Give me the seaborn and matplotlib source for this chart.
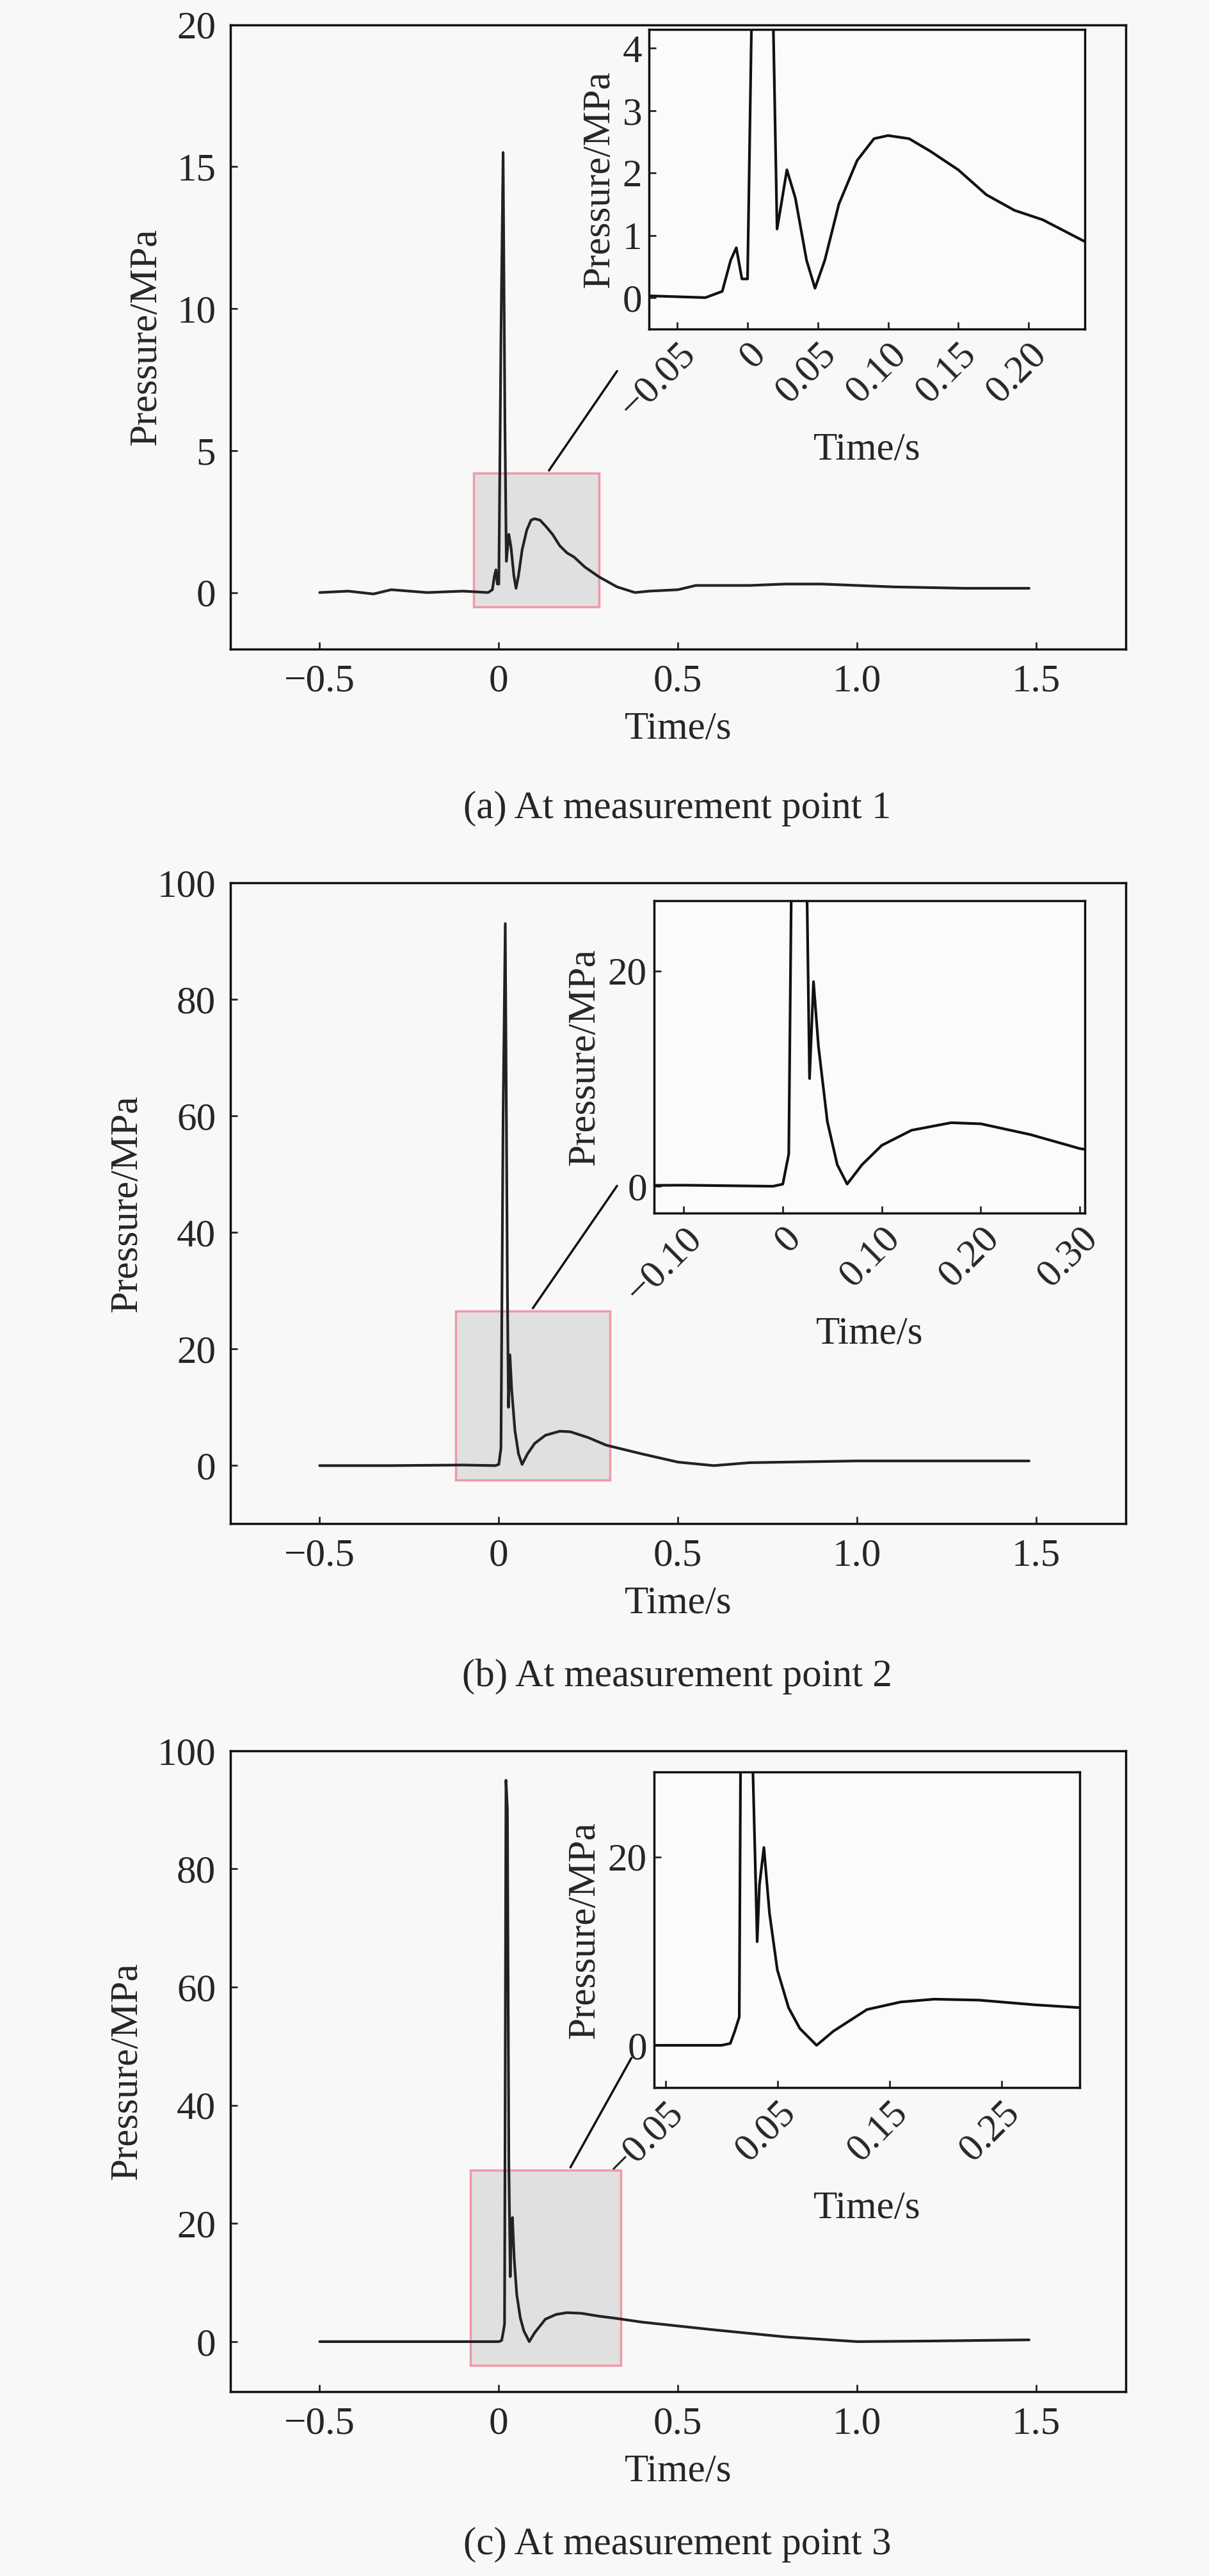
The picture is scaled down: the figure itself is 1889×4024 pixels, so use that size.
import numpy as np
import pandas as pd
import matplotlib.pyplot as plt
import seaborn as sns

sns.set_theme(style="white")
plt.rcParams['font.family'] = ['Liberation Serif', 'DejaVu Serif']
plt.rcParams['axes.unicode_minus'] = True

# ---- data ----
t_a = [-0.5, -0.42, -0.35, -0.3, -0.2, -0.1, -0.03, -0.018, -0.012, -0.008, -0.004, 0.0, 0.006, 0.012,
       0.017, 0.021, 0.024, 0.028, 0.034, 0.042, 0.048, 0.055, 0.065, 0.078, 0.09, 0.1, 0.115, 0.13, 0.15,
       0.17, 0.19, 0.21, 0.24, 0.28, 0.33, 0.38, 0.42, 0.5, 0.55, 0.7, 0.8, 0.9, 1.0, 1.1, 1.3, 1.48]
p_a = [0.0, 0.05, -0.05, 0.1, 0.0, 0.05, 0.0, 0.1, 0.6, 0.8, 0.3, 0.3, 9.0, 15.5,
       6.0, 1.1, 1.5, 2.05, 1.6, 0.6, 0.15, 0.6, 1.5, 2.2, 2.55, 2.6, 2.55, 2.35, 2.05,
       1.65, 1.4, 1.25, 0.9, 0.55, 0.2, 0.0, 0.05, 0.1, 0.25, 0.25, 0.3, 0.3, 0.25, 0.2, 0.15, 0.15]

t_b = [-0.5, -0.3, -0.1, -0.01, 0.0, 0.006, 0.012, 0.018, 0.024, 0.027, 0.031, 0.036, 0.045, 0.055,
       0.065, 0.08, 0.1, 0.13, 0.17, 0.2, 0.25, 0.3, 0.4, 0.5, 0.6, 0.7, 1.0, 1.3, 1.48]
p_b = [0.0, 0.0, 0.1, 0.0, 0.2, 3.0, 60.0, 93.0, 30.0, 10.0, 19.0, 13.0, 6.0, 2.0,
       0.2, 2.0, 3.8, 5.2, 5.9, 5.8, 4.8, 3.5, 2.0, 0.6, 0.0, 0.5, 0.8, 0.8, 0.8]

t_c = [-0.5, -0.3, -0.1, 0.0, 0.008, 0.012, 0.016, 0.02, 0.024, 0.028, 0.032, 0.034, 0.038, 0.043,
       0.05, 0.06, 0.07, 0.085, 0.1, 0.13, 0.16, 0.19, 0.23, 0.28, 0.32, 0.4, 0.6, 0.8, 1.0, 1.2, 1.48]
p_c = [0.0, 0.0, 0.0, 0.0, 0.2, 1.5, 3.0, 95.0, 90.0, 30.0, 11.0, 17.0, 21.0, 14.0,
       8.0, 4.0, 1.8, 0.0, 1.5, 3.8, 4.6, 4.9, 4.8, 4.3, 4.0, 3.3, 2.0, 0.8, 0.0, 0.1, 0.3]

captions = ['(a) At measurement point 1', '(b) At measurement point 2', '(c) At measurement point 3']
main_ylim = [(-2, 20), (-10, 100), (-8.5, 100)]
main_yticks = [[0, 5, 10, 15, 20], [0, 20, 40, 60, 80, 100], [0, 20, 40, 60, 80, 100]]
box = [(-0.07, 0.28, -0.5, 4.2), (-0.12, 0.31, -2.5, 26.5), (-0.08, 0.34, -4.0, 29.0)]
inset_xlim = [(-0.07, 0.24), (-0.13, 0.305), (-0.06, 0.32)]
inset_ylim = [(-0.5, 4.3), (-2.5, 26.5), (-4.5, 29.0)]
inset_xticks = [[-0.05, 0, 0.05, 0.10, 0.15, 0.20], [-0.10, 0, 0.10, 0.20, 0.30], [-0.05, 0.05, 0.15, 0.25]]
inset_xlabels = [['\u22120.05', '0', '0.05', '0.10', '0.15', '0.20'],
                 ['\u22120.10', '0', '0.10', '0.20', '0.30'],
                 ['\u22120.05', '0.05', '0.15', '0.25']]
inset_yticks = [[0, 1, 2, 3, 4], [0, 20], [0, 20]]

series = [(t_a, p_a), (t_b, p_b), (t_c, p_c)]

W, H = 1890, 4024
fig = plt.figure(figsize=(W / 100, H / 100), dpi=100, facecolor='#f8f8f8')

# panel geometry in display pixels of the 736x1567 reference
s = W / 736.0
main_box = [(140, 15, 685, 395), (140, 537, 685, 927), (140, 1065, 685, 1455)]
ins_box = [(395, 18, 660, 200), (398, 548, 660, 738), (398, 1078, 657, 1270)]
cap_y = [492, 1020, 1548]
# connector line ends in data coords of main axes
conn = [((0.14, 4.3), (0.33, 7.8)), ((0.095, 27), (0.33, 48)), ((0.2, 29.5), (0.37, 48))]


def rect(b):
    l, t, r, bt = b
    return [l * s / W, 1 - bt * s / H, (r - l) * s / W, (bt - t) * s / H]


FS = 44
for i in range(3):
    t, p = series[i]
    df = pd.DataFrame({'t': t, 'p': p})
    ax = fig.add_axes(rect(main_box[i]))
    ax.set_facecolor('#f8f8f8')
    x0, x1, y0, y1 = box[i]
    ax.add_patch(plt.Rectangle((x0, y0), x1 - x0, y1 - y0, facecolor='#dcdcdc',
                               edgecolor='#f08a9a', lw=2.5, alpha=0.85, zorder=1))
    sns.lineplot(data=df, x='t', y='p', ax=ax, color='#222222', lw=3, zorder=3)
    (cx0, cy0), (cx1, cy1) = conn[i]
    ax.plot([cx0, cx1], [cy0, cy1], color='#111111', lw=2.5)
    ax.set_xlim(-0.75, 1.75)
    ax.set_ylim(*main_ylim[i])
    ax.set_xticks([-0.5, 0, 0.5, 1.0, 1.5])
    ax.set_xticklabels(['\u22120.5', '0', '0.5', '1.0', '1.5'])
    ax.set_yticks(main_yticks[i])
    ax.set_xlabel('Time/s', fontsize=FS, labelpad=14)
    ax.set_ylabel('Pressure/MPa', fontsize=FS, labelpad=14)
    ax.tick_params(labelsize=FS, direction='in', length=8, width=2, pad=16,
                   bottom=True, left=True)
    for sp in ax.spines.values():
        sp.set_linewidth(2.5)
        sp.set_color('#111111')

    ix = fig.add_axes(rect(ins_box[i]))
    ix.set_facecolor('#fbfbfb')
    sns.lineplot(data=df, x='t', y='p', ax=ix, color='#111111', lw=3)
    ix.set_xlim(*inset_xlim[i])
    ix.set_ylim(*inset_ylim[i])
    ix.set_xticks(inset_xticks[i])
    ix.set_xticklabels(inset_xlabels[i], rotation=45, ha='right', rotation_mode='anchor')
    ix.set_yticks(inset_yticks[i])
    ix.set_xlabel('Time/s', fontsize=FS, labelpad=8)
    ix.set_ylabel('Pressure/MPa', fontsize=FS, labelpad=6)
    ix.tick_params(labelsize=FS, direction='in', length=8, width=2, pad=8,
                   bottom=True, left=True)
    for sp in ix.spines.values():
        sp.set_linewidth(2.5)
        sp.set_color('#111111')

    fig.text(412 * s / W, 1 - cap_y[i] * s / H, captions[i], fontsize=FS,
             ha='center', va='center')

fig.savefig('out.png', dpi=100, facecolor=fig.get_facecolor())
